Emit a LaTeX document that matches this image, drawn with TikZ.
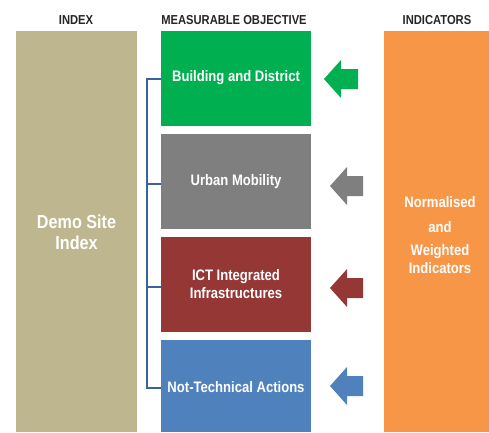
\documentclass[tikz,border=0pt]{standalone}
\usepackage{fontspec}
\setmainfont{Liberation Sans}[FakeStretch=0.86]
\begin{document}
\begin{tikzpicture}[x=1pt,y=-1pt,
  hdr/.style={font=\bfseries\fontsize{13}{14}\selectfont, text=black!85, inner sep=0pt},
  lbl/.style={font=\bfseries\fontsize{15.2}{18}\selectfont, text=white, align=center, inner sep=0pt},
  bracket/.style={draw=bracketblue, line width=1.3pt}]
\definecolor{tan}{HTML}{BEB68E}
\definecolor{objgreen}{HTML}{00B050}
\definecolor{objgray}{HTML}{7F7F7F}
\definecolor{objred}{HTML}{953735}
\definecolor{objblue}{HTML}{4F81BD}
\definecolor{indorange}{HTML}{F79646}
\definecolor{bracketblue}{HTML}{3A62A0}
\useasboundingbox (0,0) rectangle (489,432);
\fill[white] (0,0) rectangle (489,432);

% column headings
\node[hdr] (hIndex) at (76,20) {INDEX};
\node[hdr] (hObj) at (234,20) {MEASURABLE OBJECTIVE};
\node[hdr] (hInd) at (437,20) {INDICATORS};

% index column
\fill[tan] (16,31) rectangle (137,432);
\node[lbl, font=\bfseries\fontsize{18.8}{21}\selectfont] (demo) at (76.5,232) {Demo Site\\Index};

% measurable objectives
\fill[objgreen] (161,31) rectangle (311,126);
\fill[objgray] (161,134) rectangle (311,229);
\fill[objred] (161,237) rectangle (311,332);
\fill[objblue] (161,340) rectangle (311,432);
\node[lbl] (o1) at (236,78) {Building and District};
\node[lbl] (o2) at (236,182) {Urban Mobility};
\node[lbl] (o3) at (236,284) {ICT Integrated\\Infrastructures};
\node[lbl] (o4) at (236,387) {Not-Technical Actions};

% indicators column
\fill[indorange] (384,31) rectangle (489,432);
\node[lbl] (n1) at (440,202) {Normalised};
\node[lbl] (n2) at (440,227) {and};
\node[lbl] (n3) at (440,259) {Weighted\\Indicators};

% bracket joining the objectives
\coordinate (b1) at (161,79);
\coordinate (b2) at (161,184);
\coordinate (b3) at (161,287);
\coordinate (b4) at (161,388);
\draw[bracket] (b1) -- (147,79) -- (147,388) -- (b4);
\draw[bracket] (147,184) -- (b2);
\draw[bracket] (147,287) -- (b3);

% block arrows pointing from the indicators to each objective
\fill[objgreen] (324,79) -- (341,60) -- (341,69) -- (358,69) -- (358,89) -- (341,89) -- (341,98) -- cycle;
\fill[objgray] (330,186) -- (347,167) -- (347,176) -- (363,176) -- (363,196) -- (347,196) -- (347,205) -- cycle;
\fill[objred] (330,288) -- (347,269) -- (347,278) -- (363,278) -- (363,298) -- (347,298) -- (347,307) -- cycle;
\fill[objblue] (330,386) -- (347,367) -- (347,376) -- (363,376) -- (363,396) -- (347,396) -- (347,405) -- cycle;
\end{tikzpicture}
\end{document}
